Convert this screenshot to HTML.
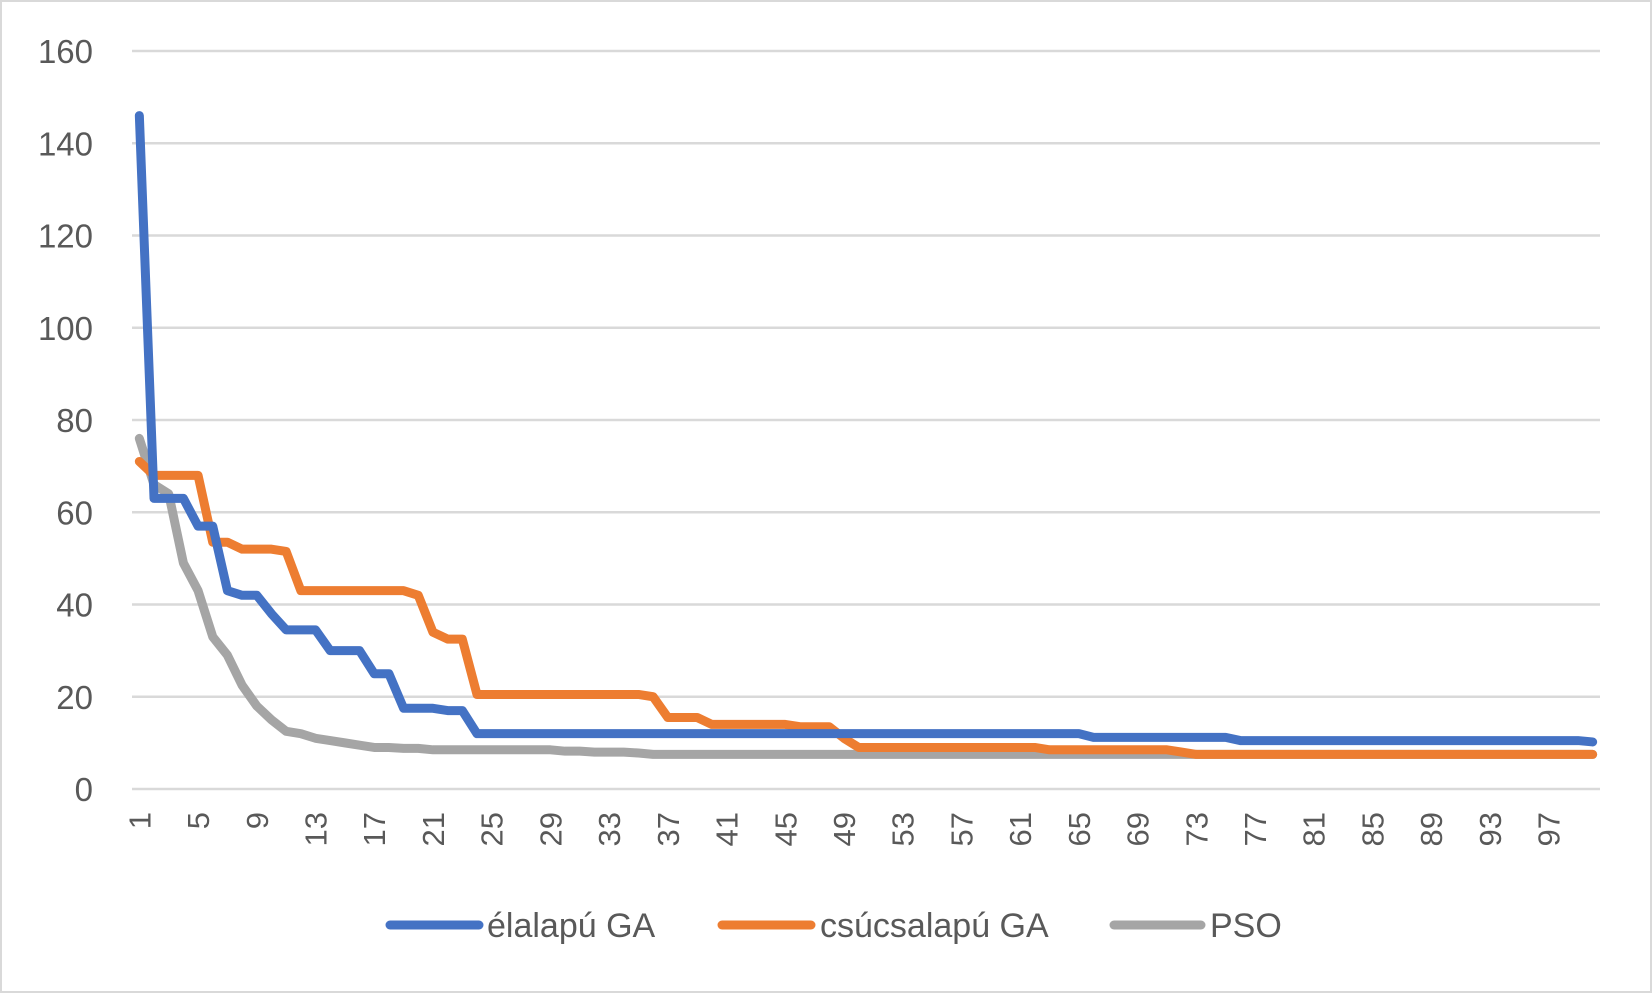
<!DOCTYPE html>
<html><head><meta charset="utf-8"><style>
html,body{margin:0;padding:0;background:#fff;}
svg{display:block;font-family:"Liberation Sans",sans-serif;}
</style></head><body>
<svg id="chart" width="1652" height="993" viewBox="0 0 1652 993">
<rect x="1" y="1" width="1650" height="991" fill="#fff" stroke="#d9d9d9" stroke-width="2"/>
<g id="grid"></g><g id="yt"></g><g id="xt"></g><g id="lines"></g>
<g>
 <g><line x1="390" y1="925" x2="479" y2="925" stroke="#4472c4" stroke-width="9" stroke-linecap="round"/><text x="487" y="937" font-size="34" fill="#595959">élalapú GA</text></g>
 <g><line x1="722" y1="925" x2="811" y2="925" stroke="#ed7d31" stroke-width="9" stroke-linecap="round"/><text x="820" y="937" font-size="34" fill="#595959">csúcsalapú GA</text></g>
 <g><line x1="1114" y1="925" x2="1201" y2="925" stroke="#a5a5a5" stroke-width="9" stroke-linecap="round"/><text x="1210" y="937" font-size="34" fill="#595959">PSO</text></g>
</g>
</svg>
<script>
const yTicks=[0,20,40,60,80,100,120,140,160];
const blue=[146,63,63,63,57,57,43,42,42,38,34.5,34.5,34.5,30,30,30,25,25,17.5,17.5,17.5,17,17,12,12,12,12,12,12,12,12,12,12,12,12,12,12,12,12,12,12,12,12,12,12,12,12,12,12,12,12,12,12,12,12,12,12,12,12,12,12,12,12,12,12,11.2,11.2,11.2,11.2,11.2,11.2,11.2,11.2,11.2,11.2,10.5,10.5,10.5,10.5,10.5,10.5,10.5,10.5,10.5,10.5,10.5,10.5,10.5,10.5,10.5,10.5,10.5,10.5,10.5,10.5,10.5,10.5,10.5,10.5,10.2];
const orange=[71,68,68,68,68,53.5,53.5,52,52,52,51.5,43,43,43,43,43,43,43,43,42,34,32.5,32.5,20.5,20.5,20.5,20.5,20.5,20.5,20.5,20.5,20.5,20.5,20.5,20.5,20,15.5,15.5,15.5,14,14,14,14,14,14,13.5,13.5,13.5,11,9,9,9,9,9,9,9,9,9,9,9,9,9,8.5,8.5,8.5,8.5,8.5,8.5,8.5,8.5,8.5,8,7.5,7.5,7.5,7.5,7.5,7.5,7.5,7.5,7.5,7.5,7.5,7.5,7.5,7.5,7.5,7.5,7.5,7.5,7.5,7.5,7.5,7.5,7.5,7.5,7.5,7.5,7.5,7.5];
const pso=[76,66,64,49,43,33,29,22.5,18,15,12.5,12,11,10.5,10,9.5,9,9,8.8,8.8,8.5,8.5,8.5,8.5,8.5,8.5,8.5,8.5,8.5,8.2,8.2,8,8,8,7.8,7.5,7.5,7.5,7.5,7.5,7.5,7.5,7.5,7.5,7.5,7.5,7.5,7.5,7.5,7.5,7.5,7.5,7.5,7.5,7.5,7.5,7.5,7.5,7.5,7.5,7.5,7.5,7.5,7.5,7.5,7.5,7.5,7.5,7.5,7.5,7.5,7.5,7.5,7.5,7.5,7.5,7.5,7.5,7.5,7.5,7.5,7.5,7.5,7.5,7.5,7.5,7.5,7.5,7.5,7.5,7.5,7.5,7.5,7.5,7.5,7.5,7.5,7.5,7.5,7.5];
const NS="http://www.w3.org/2000/svg";
const L=132,R=1600,Y0=789,Y160=51;
const n=blue.length, cw=(R-L)/n;
const x=i=>L+cw*(i+0.5);
const y=v=>Y0-(v/160)*(Y0-Y160);
function mk(t,a,p){const e=document.createElementNS(NS,t);for(const k in a)e.setAttribute(k,a[k]);p.appendChild(e);return e;}
const g=document.getElementById('grid'),yt=document.getElementById('yt'),xt=document.getElementById('xt'),ln=document.getElementById('lines');
yTicks.forEach(v=>{
 const l=mk('line',{x1:L,x2:R,y1:y(v),y2:y(v),stroke:'#d9d9d9','stroke-width':2.5},g);
 
 
 const t=mk('text',{x:93,y:y(v)+12,'text-anchor':'end','font-size':33,fill:'#595959'},yt);
 t.textContent=v;
 
 
});
for(let i=0;i<n;i+=4){
 const t=mk('text',{transform:`translate(${x(i)+11},812) rotate(-90)`,'text-anchor':'end','font-size':31,fill:'#595959'},xt);
 t.textContent=i+1;
 
 
}
[[blue,'#4472c4','series-elalapu-ga'],[orange,'#ed7d31','series-csucsalapu-ga'],[pso,'#a5a5a5','series-pso']].reverse().forEach(([d,c,nm])=>{
 const p=mk('polyline',{points:d.map((v,i)=>x(i)+','+y(v)).join(' '),fill:'none',stroke:c,'stroke-width':9,'stroke-linejoin':'round','stroke-linecap':'round'},ln);
 
 
});
</script>
</body></html>
